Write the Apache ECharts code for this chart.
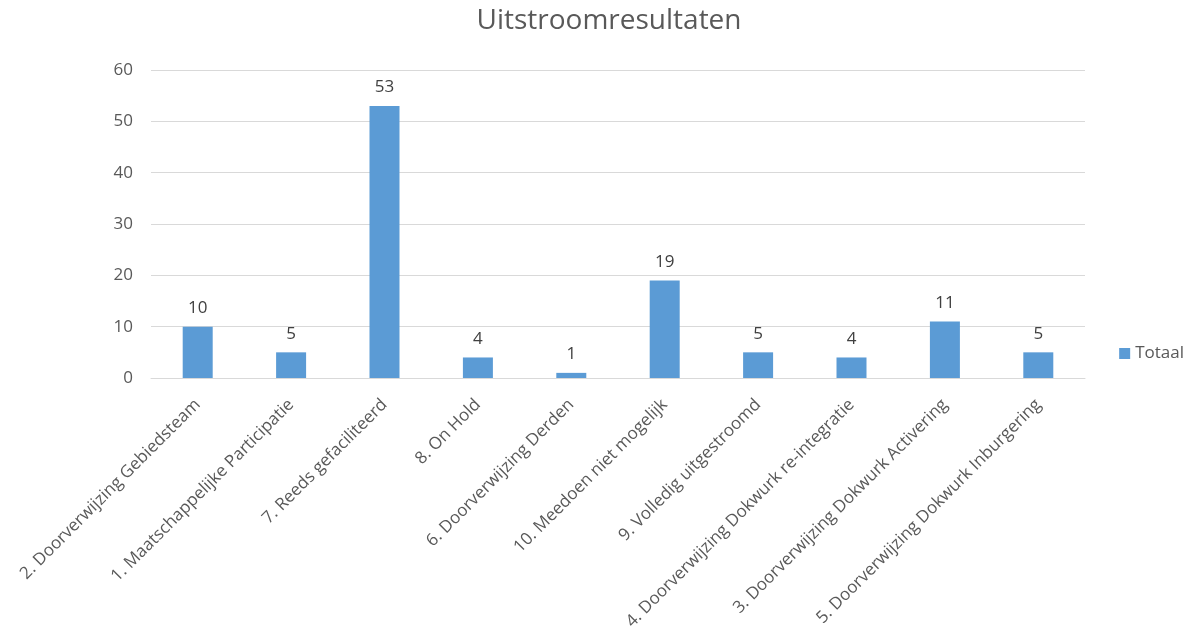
<!DOCTYPE html>
<html><head><meta charset="utf-8">
<script src="https://cdn.jsdelivr.net/npm/echarts@6/dist/echarts.min.js"></script>
<style>html,body{margin:0;padding:0;background:#fff}#c{width:1195px;height:639px}</style>
</head><body><div id="c"></div>
<script>
const categories = ["2. Doorverwijzing Gebiedsteam","1. Maatschappelijke Participatie","7. Reeds gefaciliteerd","8. On Hold","6. Doorverwijzing Derden","10. Meedoen niet mogelijk","9. Volledig uitgestroomd","4. Doorverwijzing Dokwurk re-integratie","3. Doorverwijzing Dokwurk Activering","5. Doorverwijzing Dokwurk Inburgering"];
const totaal = [10,5,53,4,1,19,5,4,11,5];
const seriesName = "Totaal";
const titleText = "Uitstroomresultaten";
const font = "'Open Sans', sans-serif";
const chart = echarts.init(document.getElementById('c'));
chart.setOption({
  animation:false,
  title:{text:titleText,left:604,top:2,textAlign:'center',textStyle:{fontFamily:font,fontSize:28,fontWeight:'normal',color:'#595959'}},
  legend:{data:[seriesName],right:6,top:340,itemWidth:11,itemHeight:11,icon:'rect',itemGap:4,textStyle:{fontFamily:font,fontSize:17,color:'#595959'}},
  grid:{left:151,right:110,top:70,bottom:261},
  xAxis:{type:'category',data:categories,
    axisLine:{lineStyle:{color:'#d9d9d9'}},axisTick:{show:false},
    axisLabel:{rotate:45,interval:0,fontFamily:font,fontSize:17,color:'#595959',margin:24}},
  yAxis:{type:'value',min:0,max:60,interval:10,
    axisLine:{show:false},axisTick:{show:false},
    splitLine:{lineStyle:{color:'#d9d9d9'}},
    axisLabel:{fontFamily:font,fontSize:17,color:'#595959',margin:18}},
  series:[{name:seriesName,type:'bar',data:totaal,barWidth:30,
    itemStyle:{color:'#5b9bd5'},
    label:{show:true,position:'top',distance:10,fontFamily:font,fontSize:17,color:'#404040'}}]
});
</script></body></html>
